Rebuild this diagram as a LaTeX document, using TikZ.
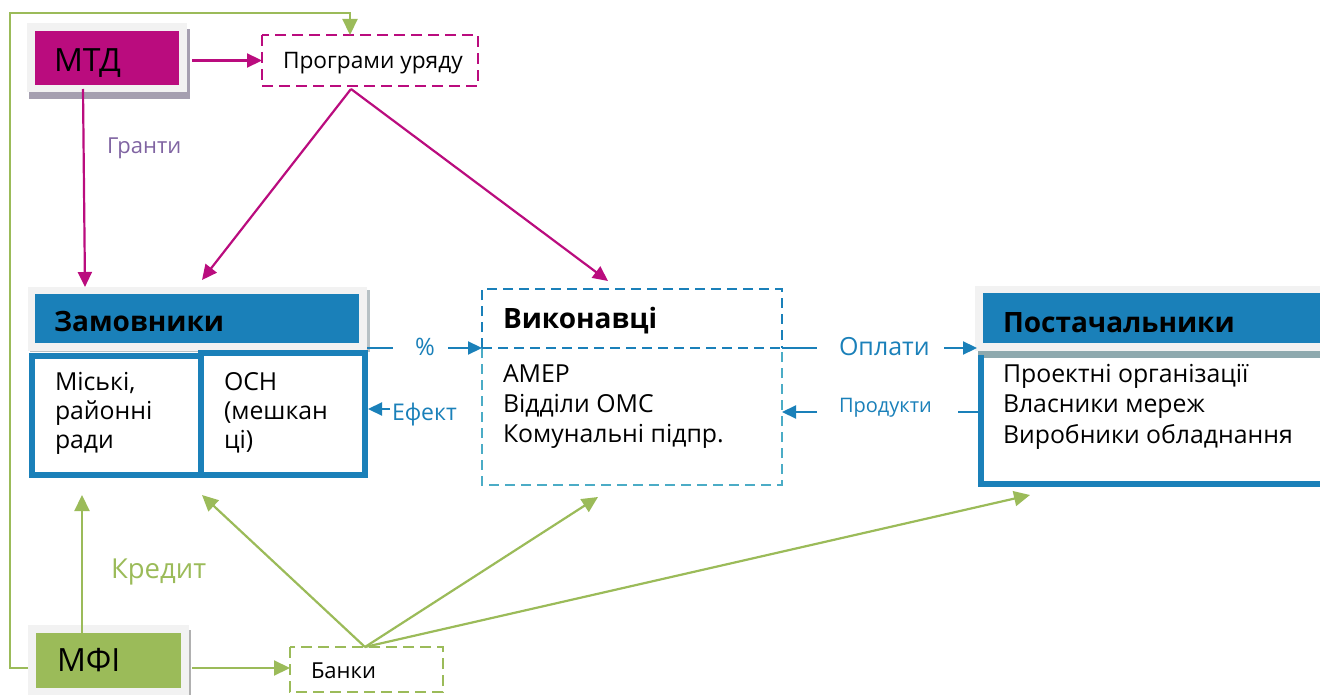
\documentclass[tikz,border=0pt]{standalone}
\usepackage{fontspec}
\setmainfont{Open Sans}
\usetikzlibrary{arrows.meta,calc}
\definecolor{mag}{HTML}{BA0C7E}
\definecolor{hblue}{HTML}{1A80B9}
\definecolor{lblue}{HTML}{4BACC6}
\definecolor{grn}{HTML}{9BBB59}
\definecolor{purp}{HTML}{8064A2}
\definecolor{lgrey}{HTML}{F2F2F2}
\definecolor{sgrey}{HTML}{A59FB0}
\definecolor{sgreyb}{HTML}{B7C1C5}
\definecolor{sgreyc}{HTML}{B0B0B0}
\definecolor{strip}{HTML}{8EA9AE}
\newcommand{\fs}[2]{\fontsize{#1}{#2}\selectfont}
\tikzset{
  rbox/.style={draw=none, inner sep=0pt, outer sep=0pt, anchor=north west},
  txt/.style={anchor=base west, inner sep=0pt, outer sep=0pt, text=black},
  bodyt/.style={txt, font=\fs{24.8}{30}},
  boldt/.style={txt, font=\bfseries\fs{28}{34}},
  bigt/.style={txt, font=\fs{32}{38}},
  marr/.style={draw=mag, line width=2.2pt, -{Triangle[length=15pt,width=14pt]}},
  garr/.style={draw=grn, line width=2.2pt, -{Triangle[length=16pt,width=15pt]}},
  barr/.style={draw=hblue, line width=2.2pt, -{Triangle[length=14pt,width=13pt]}},
  bline/.style={draw=hblue, line width=2.2pt},
  mdash/.style={draw=mag, line width=2.6pt, dash pattern=on 11pt off 6pt},
  gdash/.style={draw=grn, line width=2.6pt, dash pattern=on 11pt off 6pt},
  ddash/.style={draw=hblue, line width=2.4pt, dash pattern=on 10pt off 6pt},
  ldash/.style={draw=lblue, line width=2.4pt, dash pattern=on 10pt off 6pt},
}
\begin{document}
\begin{tikzpicture}[x=1pt,y=-1pt]
\useasboundingbox (0,0) rectangle (1320,695);
% helper rows
\coordinate (rowA) at (0,348);
\coordinate (rowB) at (0,412);
\coordinate (rowC) at (0,409);
\coordinate (rowG) at (0,668);

% ---------- MTD ----------
\fill[sgrey] (29,29) rectangle (190,99);
\node[rbox, fill=lgrey, minimum width=160, minimum height=69] (mtdbg) at (27,23) {};
\node[rbox, fill=mag, minimum width=144, minimum height=54] (mtd) at (35,31) {};
\node[bigt] (mtdt) at (54,72) {МТД};

% ---------- Programs ----------
\node[rbox, minimum width=216, minimum height=51] (prog) at (262,35) {};
\draw[mdash] (prog.north west) rectangle (prog.south east);
\node[txt, font=\fs{22.7}{28}] (progt) at (283,69) {Програми уряду};

% ---------- Zamovnyky ----------
\fill[sgreyb] (30,290) rectangle (370,352);
\node[rbox, fill=lgrey, minimum width=339, minimum height=64] (zambg) at (28,287) {};
\node[rbox, fill=hblue, minimum width=324, minimum height=49] (zamh) at (35,294) {};
\node[boldt] (zamt) at (54,331) {Замовники};
\node[rbox, draw=hblue, line width=5.5pt, minimum width=169, minimum height=119] (zamL) at (32,356) {};
\node[rbox, draw=hblue, line width=5.5pt, minimum width=164, minimum height=122] (zamR) at (201,353) {};
\node[bodyt] (zamLt1) at (55,390) {Міські,};
\node[bodyt] (zamLt2) at (55,419) {районні};
\node[bodyt] (zamLt3) at (55,448) {ради};
\node[bodyt] (zamRt1) at (224,390) {ОСН};
\node[bodyt] (zamRt2) at (224,419) {(мешкан};
\node[bodyt] (zamRt3) at (224,448) {ці)};

% ---------- Vykonavtsi ----------
\node[rbox, minimum width=300, minimum height=196] (vyk) at (482,289) {};
\draw[ddash] (vyk.west |- rowA) |- (vyk.north east) -- (vyk.east |- rowA);
\draw[ldash] (vyk.west |- rowA) |- (vyk.south east) -- (vyk.east |- rowA);
\draw[ddash] (vyk.west |- rowA) -- (vyk.east |- rowA);
\node[boldt] (vykt) at (503,328) {Виконавці};
\node[bodyt] (vykt1) at (503,382) {АМЕР};
\node[bodyt] (vykt2) at (503,412) {Відділи ОМС};
\node[bodyt] (vykt3) at (503,442) {Комунальні підпр.};

% ---------- Postachalnyky ----------
\node[rbox, fill=lgrey, minimum width=350, minimum height=65] (posbg) at (975,286) {};
\node[rbox, fill=hblue, minimum width=345, minimum height=50] (posh) at (983,293) {};
\fill[strip] (978,351) rectangle (1325,358);
\node[rbox, minimum width=350, minimum height=132] (pos) at (981,355) {};
\draw[hblue, line width=6pt] (pos.north west) |- ($(pos.south east)+(0,-3)$);
\node[boldt] (post) at (1003,332) {Постачальники};
\node[bodyt] (post1) at (1003,382) {Проектні організації};
\node[bodyt] (post2) at (1003,412) {Власники мереж};
\node[bodyt] (post3) at (1003,443) {Виробники обладнання};

% ---------- MFI ----------
\fill[sgreyc] (30,630) rectangle (191,700);
\node[rbox, fill=lgrey, minimum width=161, minimum height=75] (mfibg) at (28,625) {};
\node[rbox, fill=grn, minimum width=145, minimum height=55] (mfi) at (36,633) {};
\node[bigt] (mfit) at (57,671) {МФІ};

% ---------- Banks ----------
\node[rbox, minimum width=153, minimum height=45] (bank) at (290,647) {};
\draw[gdash] (bank.north west) rectangle (bank.south east);
\node[txt, font=\fs{22}{26}] (bankt) at (311,678) {Банки};

% ---------- labels ----------
\node[txt, font=\fs{22}{26}, text=purp] (granty) at (107,154) {Гранти};
\node[txt, font=\fs{27.5}{30}, text=grn] (kredyt) at (111,578) {Кредит};
\node[txt, font=\fs{24}{30}, text=hblue] (pct) at (415,355) {\%};
\node[txt, font=\fs{23}{26}, text=hblue] (efekt) at (392,420) {Ефект};
\node[txt, font=\fs{25}{30}, text=hblue] (oplaty) at (839,355) {Оплати};
\node[txt, font=\fs{20}{24}, text=hblue] (produkty) at (839,412) {Продукти};

% ---------- magenta connectors ----------
\draw[marr, shorten <=13pt] (mtd.east |- prog.west) -- (prog.west);
\draw[marr] ($(mtd.south west)+(48,4)$) -- ($(zambg.north west)+(57,0)$);
\draw[marr] ($(prog.south west)+(89,3)$) -- ($(zambg.north west)+(174,-7)$);
\draw[marr] ($(prog.south west)+(89,3)$) -- ($(vyk.north west)+(126,-8)$);

% ---------- blue connectors ----------
\draw[bline] (zambg.east |- rowA) -- ++(26,0);
\draw[barr] ($(vyk.west |- rowA)+(-34,0)$) -- (vyk.west |- rowA);
\draw[bline] (vyk.east |- rowA) -- ++(35,0);
\draw[barr] ($(posbg.west |- rowA)+(-31,0)$) -- ($(posbg.west |- rowA)+(2,0)$);
\draw[bline] ($(pos.west |- rowB)+(-3,0)$) -- ++(-20,0);
\draw[barr] ($(vyk.east |- rowB)+(35,0)$) -- (vyk.east |- rowB);
\draw[barr] ($(zamR.east |- rowC)+(25,0)$) -- ($(zamR.east |- rowC)+(3,0)$);

% ---------- green connectors ----------
\draw[garr] (mfibg.west |- rowG) -- ++(-18,0) |- ($(prog.north west)+(88,-22)$) -- ($(prog.north west)+(88,0)$);
\draw[garr] ($(mfi.north west)+(46,0)$) -- ($(zamL.south west)+(50,20)$);
\draw[garr] ($(mfibg.east |- rowG)+(3,0)$) -- (bank.west |- rowG);
\draw[garr] ($(bank.north west)+(75,0)$) -- ($(zamR.south west)+(1,20)$);
\draw[garr] ($(bank.north west)+(75,0)$) -- ($(vyk.south west)+(116,12)$);
\draw[garr] ($(bank.north west)+(75,0)$) -- ($(pos.south west)+(49,8)$);
\end{tikzpicture}
\end{document}
